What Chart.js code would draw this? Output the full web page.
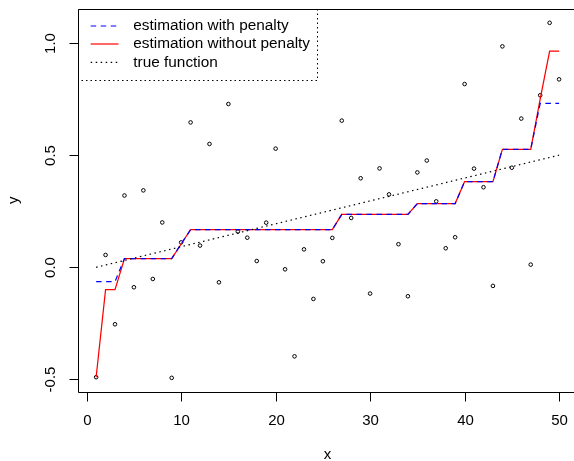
<!DOCTYPE html>
<html lang="en">
<head>
  <meta charset="UTF-8">
  <title>Step fit with and without penalty</title>
  <script src="https://cdn.jsdelivr.net/npm/chart.js"></script>
  <style>
    html, body { margin: 0; padding: 0; overflow: hidden; background: #fff; }
    canvas { display: block; }
  </style>
</head>
<body>
  <canvas id="fitChart" width="574" height="461"></canvas>

  <script>
    // x positions of the observations
    const xValues = [1, 2, 3, 4, 5, 6, 7, 8, 9, 10, 11, 12, 13, 14, 15, 16, 17, 18, 19, 20,
                     21, 22, 23, 24, 25, 26, 27, 28, 29, 30, 31, 32, 33, 34, 35, 36, 37, 38, 39, 40,
                     41, 42, 43, 44, 45, 46, 47, 48, 49, 50];

    // observed y (open circles)
    const yObserved = [-0.490, 0.055, -0.254, 0.320, -0.089, 0.343, -0.052, 0.200, -0.493, 0.111,
                       0.646, 0.097, 0.550, -0.067, 0.728, 0.159, 0.132, 0.028, 0.199, 0.529,
                       -0.009, -0.397, 0.080, -0.141, 0.027, 0.131, 0.654, 0.220, 0.397, -0.117,
                       0.441, 0.325, 0.103, -0.129, 0.423, 0.476, 0.294, 0.085, 0.134, 0.817,
                       0.440, 0.357, -0.083, 0.985, 0.444, 0.663, 0.012, 0.767, 1.090, 0.838];

    // estimation with penalty (blue dashed)
    const yPenalty = [-0.064, -0.064, -0.064, 0.039, 0.039, 0.039, 0.039, 0.039, 0.039, 0.104,
                      0.168, 0.168, 0.168, 0.168, 0.168, 0.168, 0.168, 0.168, 0.168, 0.168,
                      0.168, 0.168, 0.168, 0.168, 0.168, 0.168, 0.236, 0.236, 0.236, 0.236,
                      0.236, 0.236, 0.236, 0.236, 0.284, 0.284, 0.284, 0.284, 0.284, 0.382,
                      0.382, 0.382, 0.382, 0.526, 0.526, 0.526, 0.526, 0.731, 0.731, 0.731];

    // estimation without penalty (red solid)
    const yNoPenalty = [-0.490, -0.100, -0.100, 0.039, 0.039, 0.039, 0.039, 0.039, 0.039, 0.104,
                        0.168, 0.168, 0.168, 0.168, 0.168, 0.168, 0.168, 0.168, 0.168, 0.168,
                        0.168, 0.168, 0.168, 0.168, 0.168, 0.168, 0.236, 0.236, 0.236, 0.236,
                        0.236, 0.236, 0.236, 0.236, 0.284, 0.284, 0.284, 0.284, 0.284, 0.382,
                        0.382, 0.382, 0.382, 0.526, 0.526, 0.526, 0.526, 0.750, 0.964, 0.964];

    // true function (straight line, end points)
    const trueX = [1, 50];
    const trueY = [0, 0.5];

    // axis ticks
    const xTicks = [0, 10, 20, 30, 40, 50];
    const yTicks = [-0.5, 0.0, 0.5, 1.0];
    const yTickLabels = ['-0.5', '0.0', '0.5', '1.0'];

    const legendLabels = ['estimation with penalty', 'estimation without penalty', 'true function'];

    const FAMILY = '"Liberation Sans", Arial, sans-serif';
    const FONT = '15px ' + FAMILY;

    function toPoints(xs, ys) {
      return xs.map((x, i) => ({ x: x, y: ys[i] }));
    }

    // R-style frame, ticks, labels and legend
    const baseGraphics = {
      id: 'baseGraphics',
      afterDraw(chart) {
        const ctx = chart.ctx;
        const area = chart.chartArea;
        const xs = chart.scales.x;
        const ys = chart.scales.y;
        const tickLen = 9;

        ctx.save();
        ctx.strokeStyle = '#000';
        ctx.fillStyle = '#000';
        ctx.lineWidth = 1;
        ctx.setLineDash([]);

        // box (right side falls outside the picture)
        const L = Math.round(area.left) + 0.5;
        const T = Math.round(area.top) + 0.5;
        const B = Math.round(area.bottom) + 0.5;
        ctx.beginPath();
        ctx.moveTo(area.right + 5, T);
        ctx.lineTo(L, T);
        ctx.lineTo(L, B);
        ctx.lineTo(area.right + 5, B);
        ctx.stroke();

        // x ticks + labels
        ctx.font = FONT;
        ctx.textAlign = 'center';
        ctx.textBaseline = 'middle';
        xTicks.forEach(v => {
          const px = Math.round(xs.getPixelForValue(v)) + 0.5;
          ctx.beginPath();
          ctx.moveTo(px, B);
          ctx.lineTo(px, B + tickLen);
          ctx.stroke();
          ctx.fillText(String(v), px, 420.5);
        });

        // y ticks + rotated labels
        yTicks.forEach((v, i) => {
          const py = Math.round(ys.getPixelForValue(v)) + 0.5;
          ctx.beginPath();
          ctx.moveTo(L, py);
          ctx.lineTo(L - tickLen, py);
          ctx.stroke();
          ctx.save();
          ctx.translate(51, py);
          ctx.rotate(-Math.PI / 2);
          ctx.fillText(yTickLabels[i], 0, 0);
          ctx.restore();
        });

        // axis titles
        ctx.fillText('x', 327.4, 455);
        ctx.save();
        ctx.translate(14, (area.top + area.bottom) / 2);
        ctx.rotate(-Math.PI / 2);
        ctx.fillText('y', 0, 0);
        ctx.restore();

        // legend
        ctx.setLineDash([1.5, 3]);
        ctx.strokeRect(L, T, 317.5 - L, 80.5 - T);

        // fit legend text to the reference width
        const w15 = ctx.measureText(legendLabels[1]).width;
        const legendPx = 15 * 176.7 / w15;
        ctx.font = legendPx.toFixed(2) + 'px ' + FAMILY;

        const rowY = [26, 44, 62.3];
        const styles = [
          { color: '#0000FF', dash: [5.5, 4.5] },
          { color: '#FF0000', dash: [] },
          { color: '#000000', dash: [1.5, 3.5] }
        ];
        ctx.textAlign = 'left';
        legendLabels.forEach((label, i) => {
          ctx.strokeStyle = styles[i].color;
          ctx.setLineDash(styles[i].dash);
          ctx.lineWidth = 1.2;
          ctx.beginPath();
          ctx.moveTo(90.7, rowY[i]);
          ctx.lineTo(118.5, rowY[i]);
          ctx.stroke();
          ctx.fillStyle = '#000';
          ctx.fillText(label, 133.3, rowY[i]);
        });
        ctx.restore();
      }
    };

    const ctx = document.getElementById('fitChart').getContext('2d');
    new Chart(ctx, {
      type: 'scatter',
      data: {
        datasets: [
          {
            label: 'true function',
            data: toPoints(trueX, trueY),
            showLine: true,
            borderColor: '#000',
            borderWidth: 1.2,
            borderDash: [1.5, 3.5],
            pointRadius: 0
          },
          {
            label: 'estimation with penalty',
            data: toPoints(xValues, yPenalty),
            showLine: true,
            borderColor: '#0000FF',
            borderWidth: 1.25,
            borderDash: [5.5, 4.5],
            pointRadius: 0
          },
          {
            label: 'estimation without penalty',
            data: toPoints(xValues, yNoPenalty),
            showLine: true,
            borderColor: '#FF0000',
            borderWidth: 1.25,
            pointRadius: 0
          },
          {
            label: 'observed',
            data: toPoints(xValues, yObserved),
            showLine: false,
            pointStyle: 'circle',
            pointRadius: 1.8,
            borderWidth: 1,
            borderColor: '#000',
            backgroundColor: 'rgba(0,0,0,0)'
          }
        ]
      },
      options: {
        responsive: false,
        animation: false,
        devicePixelRatio: 1,
        layout: {
          autoPadding: false,
          padding: { left: 77.6, right: 0, top: 8.7, bottom: 69 }
        },
        scales: {
          x: { type: 'linear', display: false, min: -0.96, max: 51.58 },
          y: { type: 'linear', display: false, min: -0.556, max: 1.153 }
        },
        plugins: {
          legend: { display: false },
          tooltip: { enabled: false }
        }
      },
      plugins: [baseGraphics]
    });
  </script>
</body>
</html>
